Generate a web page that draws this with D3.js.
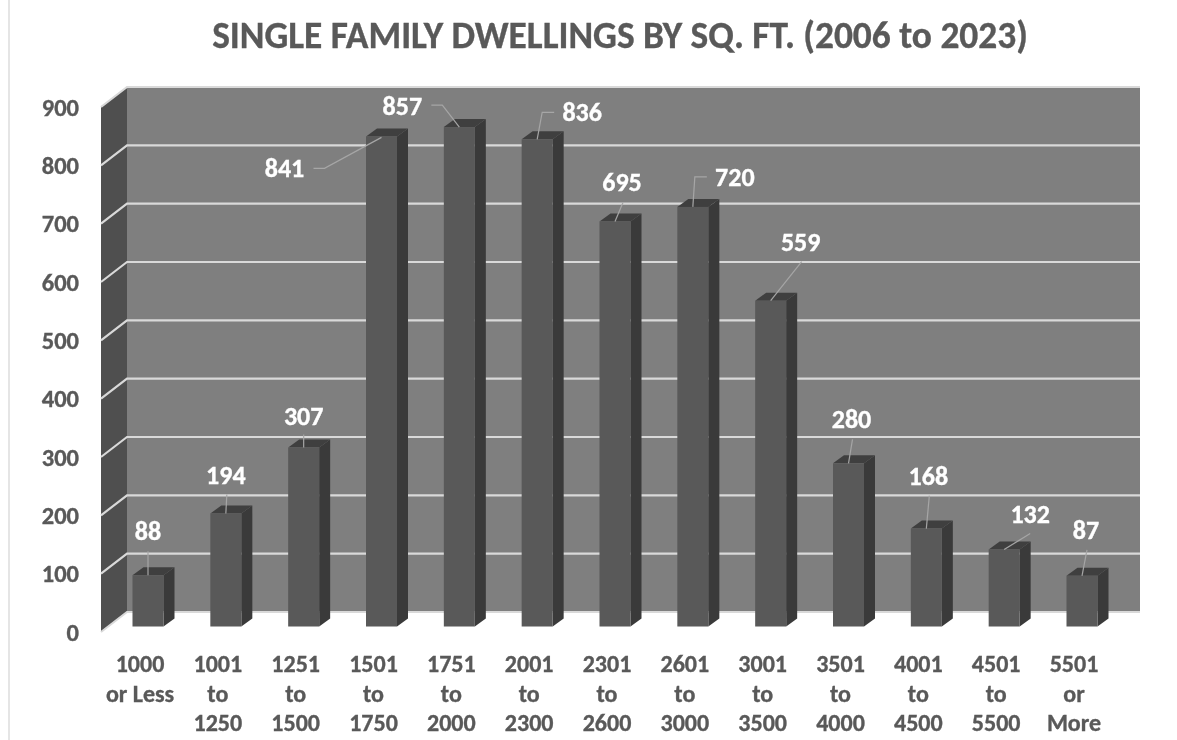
<!DOCTYPE html>
<html><head><meta charset="utf-8">
<script src="https://cdn.jsdelivr.net/npm/d3@7"></script>
<style>
html,body{margin:0;padding:0;background:#fff}
svg{display:block;filter:blur(0.5px)}
text{font-family:Carlito,Calibri,Lato,sans-serif;font-weight:700;stroke-width:0.35px}
</style></head><body><svg id="c" width="1177" height="740"></svg>
<script>
const title = "SINGLE FAMILY DWELLINGS BY SQ. FT. (2006 to 2023)";
const categories = [["1000","or Less"],["1001","to","1250"],["1251","to","1500"],["1501","to","1750"],["1751","to","2000"],["2001","to","2300"],["2301","to","2600"],["2601","to","3000"],["3001","to","3500"],["3501","to","4000"],["4001","to","4500"],["4501","to","5500"],["5501","or","More"]];
const values = [88,194,307,841,857,836,695,720,559,280,168,132,87];
const yTicks = [0,100,200,300,400,500,600,700,800,900];
// text centre offset and leader path, relative to top-centre of each bar's front face
const labelLayout = [
 {t:[0,-44],l:[[0,-24],[0,0]]},
 {t:[0,-38],l:[[1,-19],[0,0]]},
 {t:[0,-32],l:[[0,-13],[0,0]]},
 {t:[-97,32],l:[[-68,32],[-57,32],[0,1]]},
 {t:[-57,-21],l:[[-28,-22],[-17,-22],[0,0]]},
 {t:[45,-27],l:[[17,-27],[5,-27],[0,0]]},
 {t:[7,-39],l:[[8,-19],[0,0]]},
 {t:[42,-30],l:[[14,-30],[2,-30],[0,0]]},
 {t:[30,-59],l:[[31,-39],[0,0]]},
 {t:[3,-44],l:[[4,-24],[0,0]]},
 {t:[2,-53],l:[[3,-33],[0,0]]},
 {t:[26,-36],l:[[26,-16],[0,0]]},
 {t:[4,-46],l:[[5,-26],[0,0]]}
];
const svg = d3.select("#c");
const WALL="#7f7f7f", SIDE="#4f4f4f", GRID="#d9d9d9", TXT="#595959";
const F0={x:101,y:632}, depth={x:26,y:-20}, barDepth={x:11,y:-8};
const backRight=1140;
const yWall = d3.scaleLinear().domain([0,900]).range([632,107]);
const yBar = d3.scaleLinear().domain([0,900]).range([626.5,102]);
const x = d3.scaleBand().domain(d3.range(categories.length)).range([109.15,1120.85]).paddingInner(0.6017).paddingOuter(0.3);

// outer frame
svg.append("line").attr("x1",9).attr("x2",9).attr("y1",0).attr("y2",740).attr("stroke","#dcdcdc").attr("stroke-width",1.5);

svg.append("text").attr("x",620).attr("y",48).attr("text-anchor","middle").attr("font-size",37.4).attr("fill",TXT).attr("stroke",TXT).text(title);

// back wall
svg.append("rect").attr("x",F0.x+depth.x).attr("y",yWall(900)+depth.y).attr("width",backRight-F0.x-depth.x).attr("height",yWall(0)-yWall(900)).attr("fill",WALL);
// side wall
svg.append("polygon").attr("points",[[F0.x,yWall(900)],[F0.x+depth.x,yWall(900)+depth.y],[F0.x+depth.x,yWall(0)+depth.y],[F0.x,yWall(0)]].join(" ")).attr("fill",SIDE);
// floor edge
svg.append("path").attr("d",`M${F0.x},${yWall(0)}L${F0.x+depth.x},${yWall(0)+depth.y}H${backRight}`).attr("fill","none").attr("stroke",GRID).attr("stroke-width",2);
// gridlines
svg.selectAll("path.grid").data(yTicks.filter(d=>d>0)).join("path").attr("class","grid").attr("fill","none").attr("stroke",GRID).attr("stroke-width",2.2)
 .attr("d",d=>`M${F0.x},${yWall(d)}L${F0.x+depth.x},${yWall(d)+depth.y}H${backRight}`);
// y labels
svg.selectAll("text.yt").data(yTicks).join("text").attr("class","yt").attr("x",79).attr("y",d=>yWall(d)+8.5).attr("text-anchor","end").attr("font-size",24.5).attr("fill",TXT).attr("stroke",TXT).text(d=>d);

// bars
const g = svg.selectAll("g.bar").data(values).join("g").attr("class","bar");
g.append("polygon").attr("fill","#3a3a3a").attr("points",(d,i)=>{const a=x(i)+x.bandwidth(),t=yBar(d),b=yBar(0);return [[a,t],[a+barDepth.x,t+barDepth.y],[a+barDepth.x,b+barDepth.y],[a,b]].join(" ")});
g.append("polygon").attr("fill","#3f3f3f").attr("points",(d,i)=>{const a=x(i),w=x.bandwidth(),t=yBar(d);return [[a,t],[a+barDepth.x,t+barDepth.y],[a+w+barDepth.x,t+barDepth.y],[a+w,t]].join(" ")});
g.append("rect").attr("fill","#595959").attr("x",(d,i)=>x(i)).attr("y",d=>yBar(d)).attr("width",x.bandwidth()).attr("height",d=>yBar(0)-yBar(d));

// leaders and value labels
const cx=i=>x(i)+x.bandwidth()/2;
svg.selectAll("path.leader").data(values).join("path").attr("class","leader").attr("fill","none").attr("stroke","#a6a6a6").attr("stroke-width",1.2)
 .attr("d",(d,i)=>d3.line()(labelLayout[i].l.map(p=>[cx(i)+p[0],yBar(d)+p[1]])));
svg.selectAll("text.val").data(values).join("text").attr("class","val").attr("text-anchor","middle").attr("font-size",26).attr("fill","#fff").attr("stroke","#fff")
 .attr("x",(d,i)=>cx(i)+labelLayout[i].t[0]).attr("y",(d,i)=>yBar(d)+labelLayout[i].t[1]+9).text(d=>d);

// category labels (centred a little left of the bars, on the front plane)
const cat=svg.selectAll("text.cat").data(categories).join("text").attr("class","cat").attr("text-anchor","middle").attr("font-size",24).attr("fill",TXT).attr("stroke",TXT);
cat.each(function(d,i){const t=d3.select(this);d.forEach((s,j)=>t.append("tspan").attr("x",cx(i)-8).attr("y",672+j*29.5).text(s));});
</script></body></html>
